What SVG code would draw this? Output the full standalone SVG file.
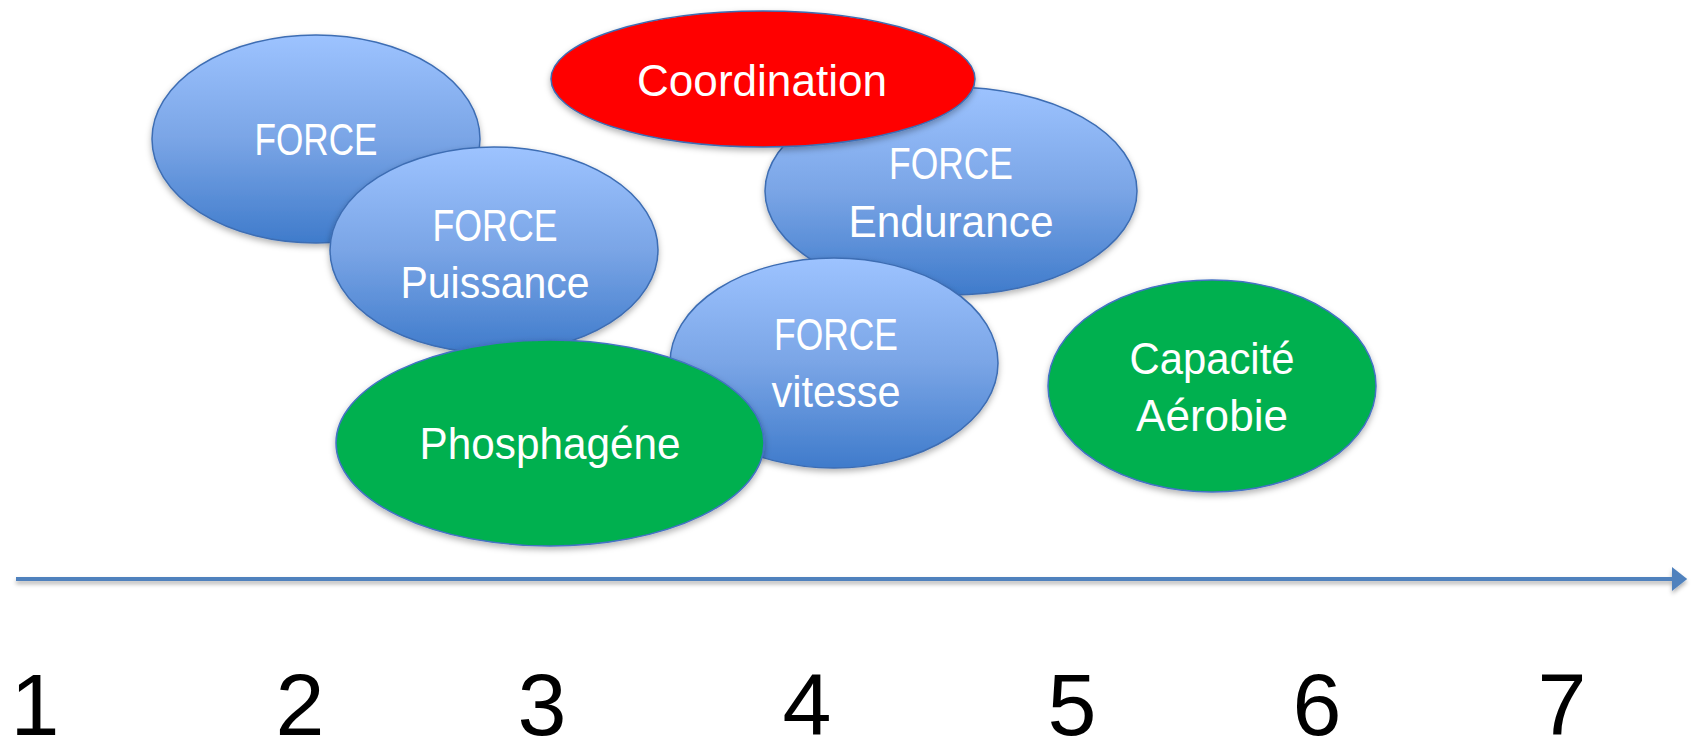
<svg xmlns="http://www.w3.org/2000/svg" width="1702" height="740" viewBox="0 0 1702 740">
<defs>
<linearGradient id="blueGrad" x1="0" y1="0" x2="0" y2="1">
<stop offset="0" stop-color="#9DC3FF"/>
<stop offset="0.5" stop-color="#7AA5E6"/>
<stop offset="1" stop-color="#3F7BCB"/>
</linearGradient>
<filter id="shadow" x="-10%" y="-10%" width="120%" height="130%">
<feDropShadow dx="0" dy="3" stdDeviation="3" flood-color="#000" flood-opacity="0.3"/>
</filter>
<filter id="lineShadow" filterUnits="userSpaceOnUse" x="0" y="560" width="1702" height="40">
<feDropShadow dx="0" dy="3" stdDeviation="2" flood-color="#000" flood-opacity="0.3"/>
</filter>
<marker id="arrowHead" markerWidth="6" markerHeight="6" refX="3" refY="3" orient="auto" markerUnits="strokeWidth">
<path d="M0,0 L3.8,3 L0,6 Z" fill="#4F81BD"/>
</marker>
</defs>
<style>
.blue { fill: url(#blueGrad); stroke: #3D6DB3; stroke-width: 1.5; filter: url(#shadow); }
.green { fill: #00B050; stroke: #4472C4; stroke-width: 1.5; filter: url(#shadow); }
.red { fill: #FF0000; stroke: #3D6DB3; stroke-width: 1.5; filter: url(#shadow); }
.lbl { font-family: "Liberation Sans", Arial, sans-serif; font-size: 45px; fill: #FFFFFF; text-anchor: middle; }
.num { font-family: "Liberation Sans", Arial, sans-serif; font-size: 88px; fill: #000000; text-anchor: middle; }
.axis { stroke: #4F81BD; stroke-width: 4; fill: none; filter: url(#lineShadow); }
</style>
<rect width="1702" height="740" fill="#FFFFFF"/>
<g id="node-force">
<ellipse class="blue" cx="316" cy="139" rx="164" ry="104"/>
<text class="lbl" x="316" y="155" textLength="123" lengthAdjust="spacingAndGlyphs">FORCE</text>
</g>
<g id="node-force-puissance">
<ellipse class="blue" cx="494" cy="250" rx="164" ry="103"/>
<text class="lbl" x="495" y="241" textLength="125" lengthAdjust="spacingAndGlyphs">FORCE</text>
<text class="lbl" x="495" y="298" textLength="189" lengthAdjust="spacingAndGlyphs">Puissance</text>
</g>
<g id="node-force-endurance">
<ellipse class="blue" cx="951" cy="191" rx="186" ry="104"/>
<text class="lbl" x="951" y="179" textLength="124" lengthAdjust="spacingAndGlyphs">FORCE</text>
<text class="lbl" x="951" y="237" textLength="205" lengthAdjust="spacingAndGlyphs">Endurance</text>
</g>
<g id="node-coordination">
<ellipse class="red" cx="763" cy="79" rx="212" ry="68"/>
<text class="lbl" x="762" y="96" textLength="250" lengthAdjust="spacingAndGlyphs">Coordination</text>
</g>
<g id="node-force-vitesse">
<ellipse class="blue" cx="834" cy="363" rx="164" ry="105"/>
<text class="lbl" x="836" y="350" textLength="124" lengthAdjust="spacingAndGlyphs">FORCE</text>
<text class="lbl" x="836" y="407" textLength="129" lengthAdjust="spacingAndGlyphs">vitesse</text>
</g>
<g id="node-phosphagene">
<ellipse class="green" cx="550" cy="443" rx="214" ry="103"/>
<text class="lbl" x="550" y="459" textLength="261" lengthAdjust="spacingAndGlyphs">Phosphagéne</text>
</g>
<g id="node-capacite-aerobie">
<ellipse class="green" cx="1212" cy="386" rx="164" ry="106"/>
<text class="lbl" x="1212" y="374" textLength="165" lengthAdjust="spacingAndGlyphs">Capacité</text>
<text class="lbl" x="1212" y="431" textLength="152" lengthAdjust="spacingAndGlyphs">Aérobie</text>
</g>
<g id="connectors">
<line class="axis" x1="16" y1="579" x2="1684" y2="579" marker-end="url(#arrowHead)"/>
</g>
<g id="axis-labels">
<text class="num" x="35" y="735">1</text>
<text class="num" x="300" y="735">2</text>
<text class="num" x="542" y="735">3</text>
<text class="num" x="807" y="735">4</text>
<text class="num" x="1072" y="735">5</text>
<text class="num" x="1317" y="735">6</text>
<text class="num" x="1562" y="735">7</text>
</g>
</svg>
